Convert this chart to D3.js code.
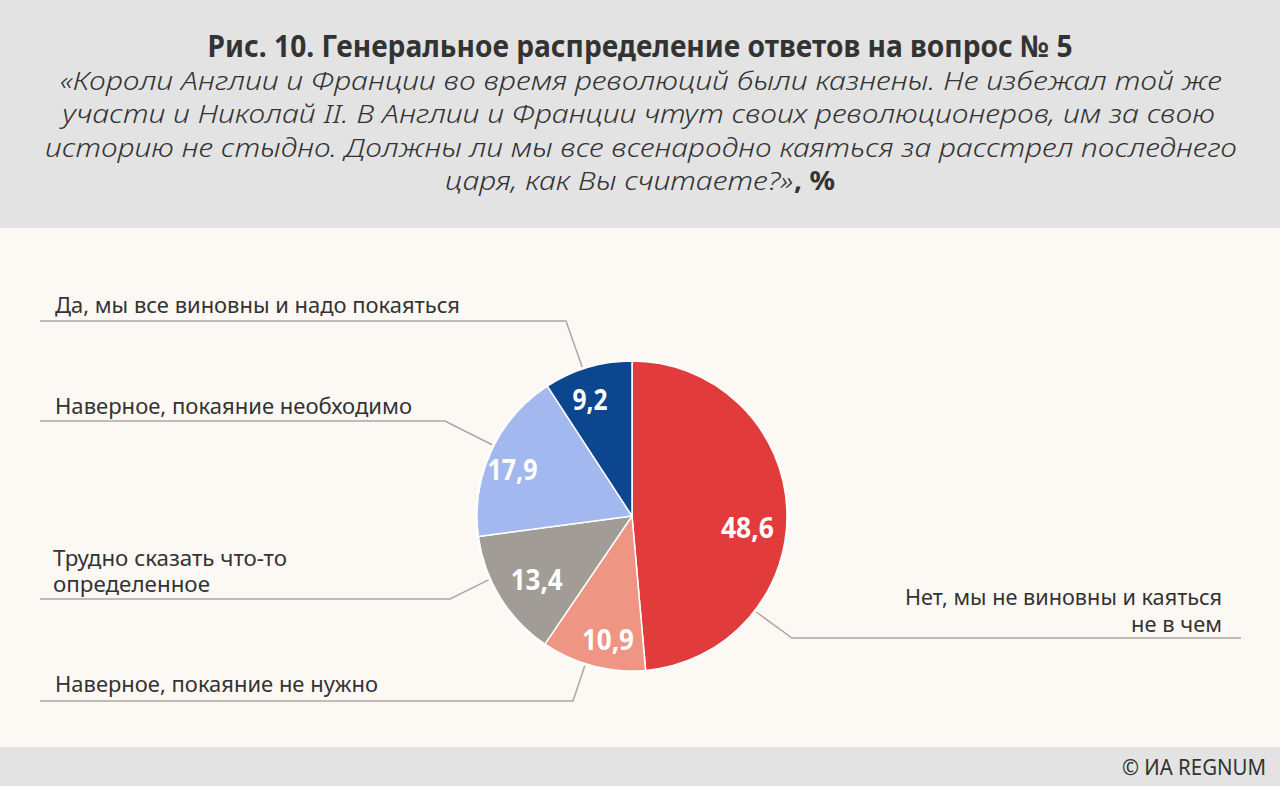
<!DOCTYPE html>
<html><head><meta charset="utf-8">
<script src="https://cdn.jsdelivr.net/npm/d3@7"></script>
<style>body{margin:0;background:#fcf9f4;overflow:hidden}svg{display:block}</style>
</head><body><svg id="c" width="1280" height="786"></svg>
<script>
// ---------- data ----------
const categories = [
  "Нет, мы не виновны и каяться не в чем",
  "Наверное, покаяние не нужно",
  "Трудно сказать что-то определенное",
  "Наверное, покаяние необходимо",
  "Да, мы все виновны и надо покаяться"
];
const values = [48.6, 10.9, 13.4, 17.9, 9.2];
const valueLabels = ["48,6", "10,9", "13,4", "17,9", "9,2"];
const colors = ["#e13b3b", "#ee9583", "#a19d96", "#a4b8f0", "#0c468f"];
const titleText = "Рис. 10. Генеральное распределение ответов на вопрос № 5";
const subtitleLines = [
  "«Короли Англии и Франции во время революций были казнены. Не избежал той же",
  "участи и Николай II. В Англии и Франции чтут своих революционеров, им за свою",
  "историю не стыдно. Должны ли мы все всенародно каяться за расстрел последнего",
  "царя, как Вы считаете?»"
];
const subtitleTail = ", %";
const sourceText = "© ИА REGNUM";

// ---------- layout ----------
const W = 1280, H = 786;
const font = "'Noto Sans', 'Open Sans', sans-serif";
const ink = "#333333";
const cx = 632, cy = 516, R = 155;
const labelLayout = [
  {lines: ["Нет, мы не виновны и каяться", "не в чем"], anchor: "end", x: 1222, base: [605, 632], widths: [317, 91], ruleY: 638, ruleX: [1241, 792], pieAngle: 127.7},
  {lines: ["Наверное, покаяние не нужно"], anchor: "start", x: 55, base: [692], widths: [323], ruleY: 701, ruleX: [40, 573], pieAngle: 197.5},
  {lines: ["Трудно сказать что-то", "определенное"], anchor: "start", x: 53, base: [566, 592], widths: [234, 157], ruleY: 599, ruleX: [40, 450], pieAngle: 246},
  {lines: ["Наверное, покаяние необходимо"], anchor: "start", x: 55, base: [414], widths: [357], ruleY: 421, ruleX: [40, 445], pieAngle: 297},
  {lines: ["Да, мы все виновны и надо покаяться"], anchor: "start", x: 55, base: [313], widths: [405], ruleY: 321, ruleX: [40, 566], pieAngle: 341.5}
];
const valuePos = [
  {a: 95.9, r: 116, w: 53}, {a: 191, r: 126, w: 52}, {a: 236, r: 115, w: 52},
  {a: 291, r: 128, w: 50}, {a: 340, r: 123, w: 35}
];

const svg = d3.select("#c");
svg.append("rect").attr("width", W).attr("height", H).attr("fill", "#fcf9f4");
svg.append("rect").attr("width", W).attr("height", 228).attr("fill", "#e3e3e3");
svg.append("rect").attr("y", 747).attr("width", W).attr("height", H - 747).attr("fill", "#e3e3e3");

// title
svg.append("text").attr("x", 640).attr("y", 57).attr("text-anchor", "middle")
  .attr("font-family", font).attr("font-weight", "bold").attr("font-size", 30)
  .attr("fill", ink).attr("textLength", 865).attr("lengthAdjust", "spacingAndGlyphs")
  .text(titleText);

const subLayout = [
  {x: 60, y: 90, w: 1162}, {x: 62, y: 123, w: 1153}, {x: 45, y: 157, w: 1192}, {x: 445, y: 190, w: 348}
];
subtitleLines.forEach((t, i) => {
  const L = subLayout[i];
  svg.append("text").attr("x", L.x).attr("y", L.y)
    .attr("font-family", font).attr("font-style", "italic").attr("font-weight", 300).attr("font-size", 26)
    .attr("fill", ink).attr("textLength", L.w).attr("lengthAdjust", "spacingAndGlyphs").text(t);
});
svg.append("text").attr("x", 794).attr("y", 190)
  .attr("font-family", font).attr("font-weight", "bold").attr("font-size", 26)
  .attr("fill", ink).attr("textLength", 41).attr("lengthAdjust", "spacingAndGlyphs").text(subtitleTail);

// pie
const pie = d3.pie().sort(null).value(d => d)(values);
const arc = d3.arc().innerRadius(0).outerRadius(R);
const g = svg.append("g").attr("transform", `translate(${cx},${cy})`);
g.append("circle").attr("r", R + 2).attr("fill", "#ffffff").attr("opacity", 0.7);
g.selectAll("path").data(pie).join("path")
  .attr("d", arc).attr("fill", (d, i) => colors[i])
  .attr("stroke", "#ffffff").attr("stroke-width", 1.5).attr("stroke-linejoin", "round");

const deg = Math.PI / 180;
g.selectAll("text.v").data(pie).join("text").attr("class", "v")
  .each(function (d, i) {
    const p = valuePos[i];
    const a = p.a * deg;
    d3.select(this).attr("x", p.r * Math.sin(a)).attr("y", -p.r * Math.cos(a) + 10);
  })
  .attr("text-anchor", "middle").attr("font-family", font).attr("font-weight", "bold")
  .attr("font-size", 29).attr("fill", "#ffffff")
  .attr("textLength", (d, i) => valuePos[i].w).attr("lengthAdjust", "spacingAndGlyphs")
  .text((d, i) => valueLabels[i]);

// labels with leader lines
labelLayout.forEach((L, i) => {
  const a = L.pieAngle * deg;
  const px = cx + (R + 2) * Math.sin(a), py = cy - (R + 2) * Math.cos(a);
  svg.append("path")
    .attr("d", d3.line()([[L.ruleX[0], L.ruleY], [L.ruleX[1], L.ruleY], [px, py]]))
    .attr("fill", "none").attr("stroke", "#a8a8a8").attr("stroke-width", 1.5);
  L.lines.forEach((t, j) => {
    svg.append("text").attr("x", L.x).attr("y", L.base[j]).attr("text-anchor", L.anchor)
      .attr("font-family", font).attr("font-size", 21).attr("fill", ink)
      .attr("textLength", L.widths[j]).attr("lengthAdjust", "spacingAndGlyphs").text(t);
  });
});

// source
svg.append("text").attr("x", 1266).attr("y", 775).attr("text-anchor", "end")
  .attr("font-family", font).attr("font-size", 21).attr("fill", ink)
  .attr("textLength", 144).attr("lengthAdjust", "spacingAndGlyphs").text(sourceText);
</script></body></html>
